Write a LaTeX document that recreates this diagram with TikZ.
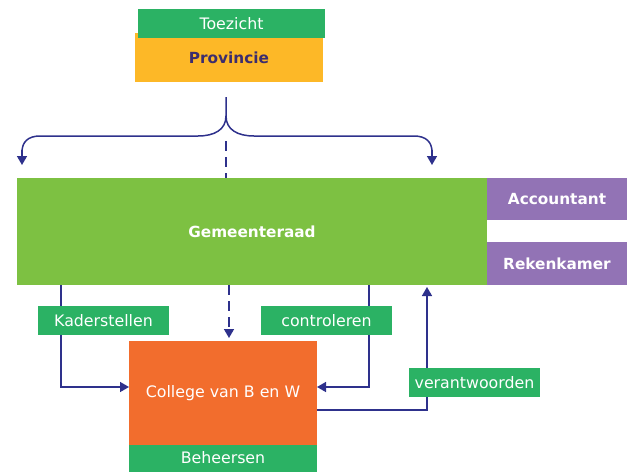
\documentclass[tikz,border=0pt]{standalone}
\usepackage{fontspec}
\setmainfont{DejaVu Sans}
\usetikzlibrary{arrows.meta,backgrounds}
\definecolor{lblgreen}{RGB}{43,178,100}
\definecolor{lime}{RGB}{125,193,66}
\definecolor{provorange}{RGB}{253,184,39}
\definecolor{purp}{RGB}{146,115,181}
\definecolor{colorange}{RGB}{242,109,45}
\definecolor{navy}{RGB}{46,49,140}
\definecolor{provtext}{RGB}{60,45,110}
\tikzset{
  box/.style={inner sep=0pt, outer sep=0pt, text=white, font=\fontsize{15.8}{18}\selectfont},
  lbl/.style={box, fill=lblgreen, minimum width=131pt, minimum height=29pt},
  bold/.style={font=\fontsize{15.3}{18}\selectfont\bfseries},
  arr/.style={draw=navy, line width=1.5pt, -{Triangle[length=9pt,width=10pt]}},
  conn/.style={draw=navy, line width=1.5pt},
}
\begin{document}
\begin{tikzpicture}[x=1pt,y=-1pt]
\useasboundingbox (0,0) rectangle (631,471);
\node[box, fill=provorange, minimum width=188pt, minimum height=49pt, text=provtext, bold] (prov) at (229,57.5) {\raisebox{-2pt}{Provincie}};
\node[box, fill=lblgreen, minimum width=187pt, minimum height=29pt] (toe) at (231.5,23.5) {Toezicht};
\node[box, fill=lime, minimum width=470pt, minimum height=107pt, bold] (gem) at (252,231.5) {Gemeenteraad};
\node[box, fill=purp, minimum width=140pt, minimum height=42pt, bold] (acc) at (557,199) {Accountant};
\node[box, fill=purp, minimum width=140pt, minimum height=43pt, bold] (rek) at (557,263.5) {Rekenkamer};
\node[box, fill=colorange, minimum width=188pt, minimum height=104pt] (col) at (223,393) {\raisebox{-2pt}{College van B en W}};
\node[box, fill=lblgreen, minimum width=188pt, minimum height=27pt] (beh) at (223,458) {Beheersen};
\node[lbl] (kad) at (103.5,320.5) {Kaderstellen};
\node[lbl] (con) at (326.5,320.5) {controleren};
\node[lbl] (ver) at (474.5,382.5) {verantwoorden};
\coordinate (ptop) at (226,97);
\coordinate (la) at (22,165);
\coordinate (ra) at (432,165);
\begin{scope}[on background layer]
\draw[conn] (ptop) -- (226,116) .. controls (226,130) and (214,136) .. (198,136) -- (40,136) .. controls (28,136) and (22,142) .. (22,152);
\draw[arr] (22,150) -- (la);
\draw[conn] (226,116) .. controls (226,130) and (238,136) .. (254,136) -- (414,136) .. controls (426,136) and (432,142) .. (432,152);
\draw[arr] (432,150) -- (ra);
\draw[conn, dash pattern=on 10pt off 6pt] (226,141) -- (gem.north -| ptop);
\draw[arr, dash pattern=on 10pt off 6pt] ([xshift=6pt]gem.south -| col.north) -- ([xshift=6pt, yshift=3pt]col.north);
\draw[arr] ([xshift=44pt]gem.south west) |- ([yshift=6pt]col.west);
\draw[arr] ([xshift=-118pt]gem.south east) |- ([yshift=6pt]col.east);
\draw[arr] ([yshift=-17pt]col.east) -| ([xshift=-60pt, yshift=-2pt]gem.south east);
\end{scope}
\end{tikzpicture}
\end{document}
